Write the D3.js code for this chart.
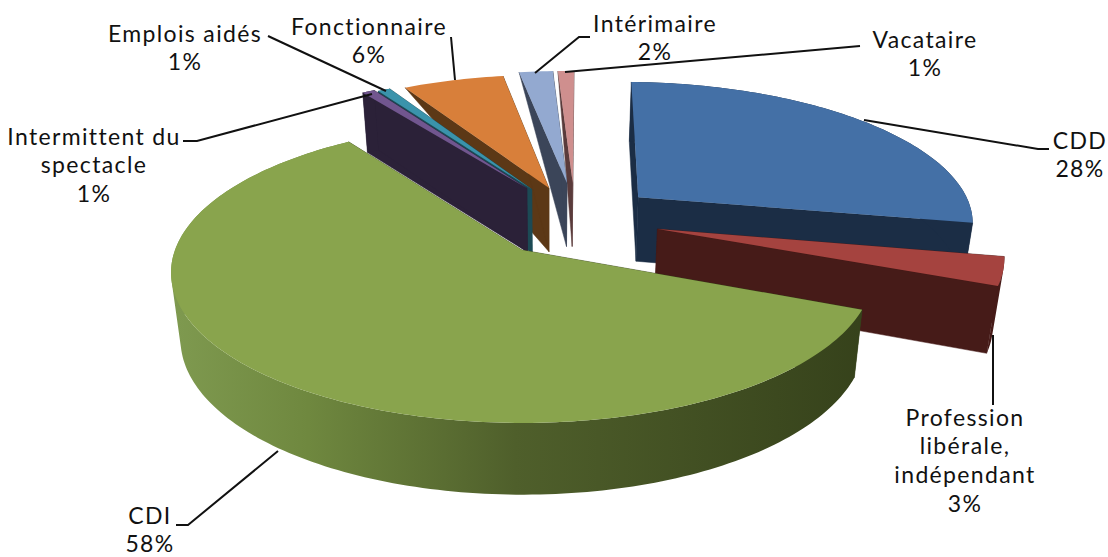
<!DOCTYPE html>
<html><head><meta charset="utf-8">
<script src="https://cdn.jsdelivr.net/npm/d3@7"></script>
<style>html,body{margin:0;background:#fff}svg{display:block}
text{font-family:"Lato",sans-serif;font-size:23px;letter-spacing:1.35px;fill:#111;text-anchor:middle}</style>
</head><body><svg id="c" width="1108" height="557"></svg>
<script>
const categories=["CDD","Profession libérale, indépendant","CDI","Intermittent du spectacle","Emplois aidés","Fonctionnaire","Intérimaire","Vacataire"];
const values=[27.6,3.2,59.2,0.7,0.7,5.7,1.9,0.9];
const percentLabels=["28%","3%","58%","1%","1%","6%","2%","1%"];
const explodeX=[0.354,0.399,0,0.015,0.03,0.083,0.139,0.157];
const explodeY=[-0.38,-0.146,0,-0.448,-0.44,-0.45,-0.489,-0.489];
const topColors=["#4470a6","#a5433f","#89a44d","#71568f","#3a93ab","#d87f3a","#93a9d0","#cf8f8e"];
const sideColors=["#1b2d45","#461b18","url(#cdiRim)","#2b2138","#1c4a55","#5c3816","#3b4559","#5a3b3b"];
const drawOrder=[7,6,5,4,3,0,1,2];
const taperedWall=[false,false,false,false,false,true,true,true];
const labelLines=[["CDD"],["Profession","libérale,","indépendant"],["CDI"],["Intermittent du","spectacle"],["Emplois aidés"],["Fonctionnaire"],["Intérimaire"],["Vacataire"]];
const labelAnchors=[[1080,141],[965,418],[150,516],[94,137],[185,34],[369,27],[655,24],[925,40]];
const leaderPaths=[[[864,120],[1038,149],[1049,149]],[[993,335],[993,405]],[[278,451],[188,525],[176,525]],[[372,94],[197,141],[183,141]],[[386,91],[268,36]],[[455,80],[451,37]],[[535,73],[579,37],[590,37]],[[565,72],[860,46]]];

const O=[522,250],R=347,kR=147,px=0.15,py=0.15,wall=66,rot=1.5*Math.PI/180;
const sx=d3.scaleLinear().domain([0,1]).range([O[0],O[0]+R]);
const sy=d3.scaleLinear().domain([0,1]).range([O[1],O[1]+kR]);
function project(X,Y){return [sx(X/(1-px*Y)),sy(Y/(1-py*Y))];}
function projectBottom(X,Y){const p=project(X,Y);return [p[0]-(p[0]-550)*0.025,p[1]+wall/(1-0.08*Y)];}
const pie=d3.pie().sort(null).startAngle(rot).endAngle(rot+2*Math.PI);
const arcs=pie(values);
const svg=d3.select("#c");
const grad=svg.append("defs").append("linearGradient").attr("id","cdiRim").attr("gradientUnits","userSpaceOnUse").attr("x1",170).attr("x2",860).attr("y1",0).attr("y2",0);
[[0,"#7f9a50"],[.2,"#6f883f"],[.5,"#4f5f2b"],[1,"#36421b"]].forEach(s=>grad.append("stop").attr("offset",s[0]).attr("stop-color",s[1]));
const line=d3.line();
const gPie=svg.append("g");
drawOrder.forEach(i=>{
  const a=arcs[i],ex=explodeX[i],ey=explodeY[i];
  const n=Math.max(2,Math.ceil((a.endAngle-a.startAngle)/0.02));
  const rim=d3.range(n+1).map(j=>{const t=a.startAngle+(a.endAngle-a.startAngle)*j/n;return [ex+Math.sin(t),ey-Math.cos(t)];});
  const apexT=project(ex,ey),apexB=projectBottom(ex,ey);
  const wallPoly=(q)=>{
    const t=project(q[0],q[1]);
    const b=taperedWall[i]?t:projectBottom(q[0],q[1]);
    return [t,apexT,apexB,b];
  };
  const g=gPie.append("g").attr("class","slice").attr("data-cat",categories[i]);
  const side=sideColors[i];
  const solid=i===2?"#36421b":side;
  g.append("path").attr("d",line(wallPoly(rim[0]))+"Z").attr("fill",solid).attr("stroke",solid).attr("stroke-width",.5);
  g.append("path").attr("d",line(wallPoly(rim[n]))+"Z").attr("fill",solid).attr("stroke",solid).attr("stroke-width",.5);
  if(!taperedWall[i]){
    const quads=d3.range(n).map(j=>{
      const q0=rim[j],q1=rim[j+1];
      const q=[project(q0[0],q0[1]),project(q1[0],q1[1]),projectBottom(q1[0],q1[1]),projectBottom(q0[0],q0[1])];
      if(d3.polygonArea(q)<0)q.reverse();
      return line(q)+"Z";
    });
    g.append("path").attr("d",quads.join("")).attr("fill",side).attr("fill-rule","nonzero");
  }
  const top=[apexT].concat(rim.map(q=>project(q[0],q[1])));
  g.append("path").attr("d",line(top)+"Z").attr("fill",topColors[i]);
});
const gLead=svg.append("g");
leaderPaths.forEach(p=>gLead.append("path").attr("d",line(p)).attr("fill","none").attr("stroke","#111").attr("stroke-width",2));
const lh=28.7;
categories.forEach((c,i)=>{
  const lines=labelLines[i].concat([percentLabels[i]]);
  const t=svg.append("text").attr("x",labelAnchors[i][0]).attr("y",labelAnchors[i][1]+7.5);
  lines.forEach((l,j)=>t.append("tspan").attr("x",labelAnchors[i][0]).attr("dy",j?lh:0).text(l));
});
</script></body></html>
